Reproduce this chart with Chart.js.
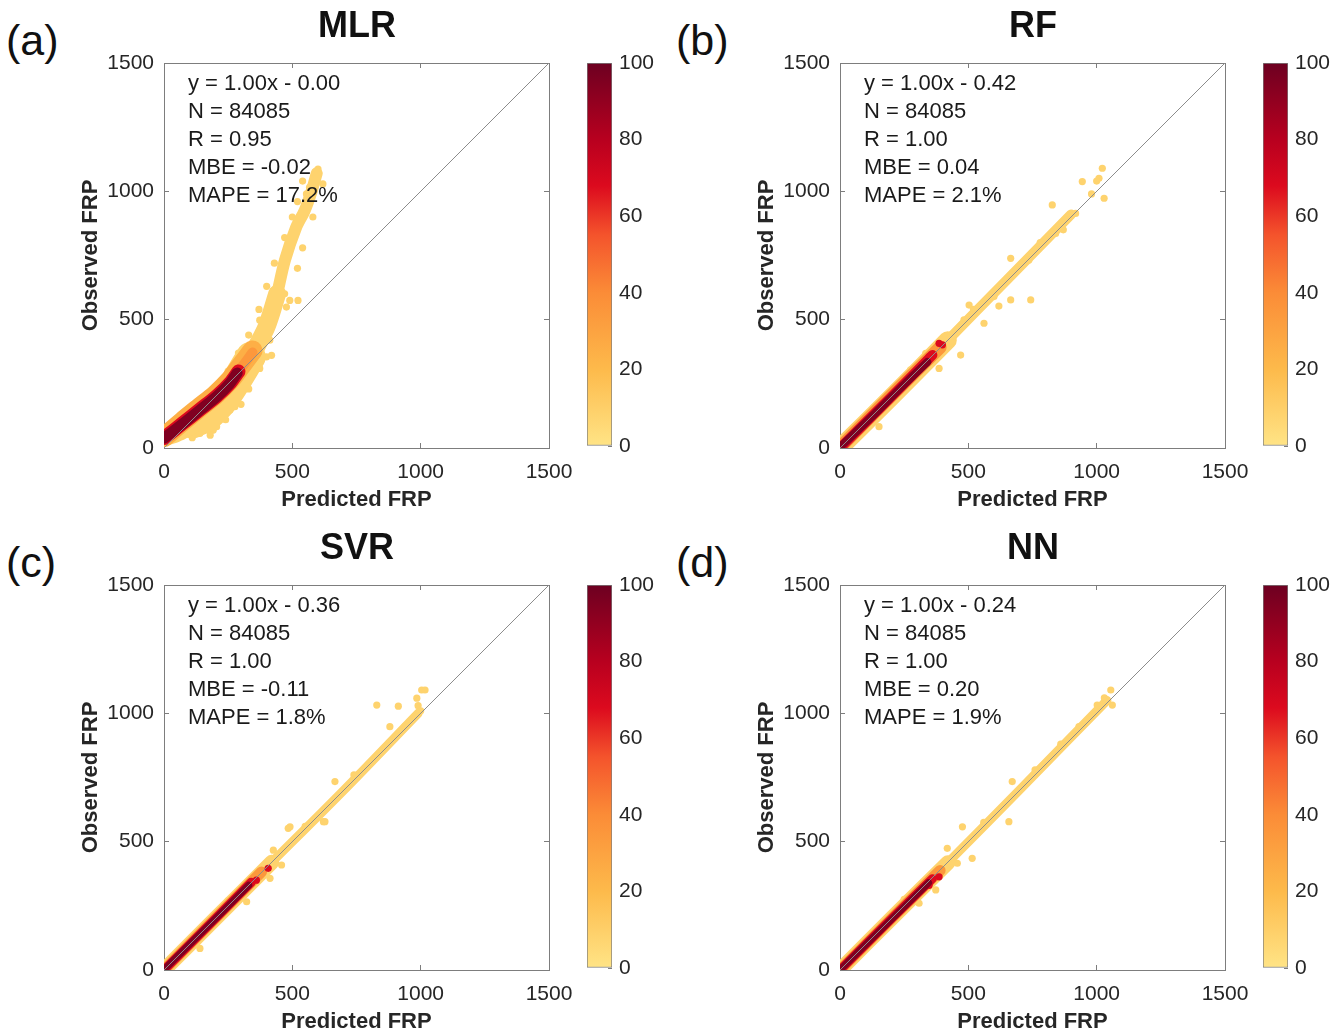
<!DOCTYPE html>
<html>
<head>
<meta charset="utf-8">
<title>FRP scatter density</title>
<script src="https://cdn.jsdelivr.net/npm/chart.js@4.4.1/dist/chart.umd.min.js"></script>
<style>
html, body { margin: 0; padding: 0; background: #fff; overflow: hidden; }
body { width: 1341px; height: 1034px; position: relative; font-family: 'Liberation Sans', Arial, Helvetica, sans-serif; color: #262626; }
canvas { position: absolute; }
.tag { position: absolute; font-size: 43px; line-height: 43px; color: #111; }
.ttl { position: absolute; width: 200px; text-align: center; font-size: 36px; line-height: 36px; font-weight: bold; color: #111; }
.stats { position: absolute; font-size: 22px; line-height: 28px; white-space: pre; color: #1a1a1a; }
</style>
</head>
<body>
<script>
// ---- labels and stats ----
const models = ['MLR', 'RF', 'SVR', 'NN'];
const panelTags = ['(a)', '(b)', '(c)', '(d)'];
const fitEq = ['y = 1.00x - 0.00', 'y = 1.00x - 0.42', 'y = 1.00x - 0.36', 'y = 1.00x - 0.24'];
const sampleN = [84085, 84085, 84085, 84085];
const corrR = ['0.95', '1.00', '1.00', '1.00'];
const mbe = ['-0.02', '0.04', '-0.11', '0.20'];
const mape = ['17.2%', '2.1%', '1.8%', '1.9%'];
const axisTicks = [0, 500, 1000, 1500];
const cbarTicks = [0, 20, 40, 60, 80, 100];

// point density (colorbar units) of each layer of a cloud
const densCore = 95, densRed = 68, densOrange = 35, densLight = 25, densYellow = 8;

// ---- MLR cloud (centre lines of each density layer, FRP units) ----
const mlrCore = [[0, 38], [75, 96], [140, 148], [205, 200], [255, 250], [285, 292]];
const mlrRed = [[0, 39], [75, 98], [140, 150], [205, 202], [258, 254], [290, 298]];
const mlrOrangeTip = [[265, 275], [305, 318], [345, 372]];
const mlrOrange = [[0, 42], [70, 102], [135, 155], [200, 207], [258, 265], [300, 320], [345, 380]];
const mlrYellowA = [[0, 36], [50, 52], [110, 82]];
const mlrYellowB = [[110, 95], [170, 125], [230, 185], [282, 262], [338, 355]];
const mlrYellowC = [[338, 355], [399, 471], [441, 601]];
const mlrYellowD = [[441, 601], [471, 731], [515, 860], [548, 925], [575, 1000], [595, 1070]];
const mlrDots = [[205, 83], [257, 148], [276, 161], [140, 57], [192, 70], [373, 310], [399, 355],
  [419, 361], [412, 420], [373, 498], [425, 510], [477, 549], [490, 575], [522, 575], [470, 601],
  [464, 731], [503, 835], [555, 990], [567, 1016], [600, 1087], [619, 1029],
  [30, 70], [90, 130], [150, 185], [215, 240], [250, 300], [290, 370], [330, 440], [370, 540],
  [400, 630], [430, 720], [470, 820], [500, 900], [520, 960], [540, 1040], [585, 1050], [580, 900],
  [540, 780], [520, 700], [330, 230], [300, 170], [240, 110], [180, 50], [110, 40]];
const mlrRedDots = [];

// ---- RF cloud ----
const rfCore = [[5, 8], [120, 118], [230, 228], [340, 335]];
const rfRed = [[0, 0], [200, 200], [360, 362]];
const rfOrange = [[0, 2], [200, 204], [390, 392]];
const rfYellowA = [[0, 0], [200, 198], [420, 420]];
const rfYellowB = [[420, 420], [650, 655], [900, 910]];
const rfDots = [[152, 83], [275, 304], [334, 369], [386, 310], [470, 362], [483, 499], [503, 557],
  [561, 486], [619, 553], [665, 577], [743, 577], [665, 739], [736, 732], [840, 836], [827, 947],
  [918, 914], [944, 1038], [1009, 1051], [1029, 973], [1022, 1090], [980, 990], [1000, 1040],
  [230, 250], [300, 280], [520, 540], [600, 590], [780, 800], [870, 850]];
const rfRedDots = [[386, 408], [347, 356], [399, 402]];

// ---- SVR cloud ----
const svrCore = [[5, 6], [150, 150], [330, 330]];
const svrRed = [[0, 0], [200, 200], [340, 342]];
const svrOrange = [[0, 0], [200, 201], [380, 382]];
const svrYellowA = [[0, 0], [200, 200], [420, 420]];
const svrYellowB = [[420, 420], [700, 700], [990, 1000]];
const svrDots = [[140, 84], [322, 266], [413, 357], [458, 409], [426, 467], [484, 552], [491, 558],
  [621, 578], [627, 578], [666, 734], [880, 948], [829, 1032], [913, 1028], [985, 1059], [1004, 1091],
  [1017, 1091], [990, 1030], [1000, 1010], [940, 950], [740, 760], [250, 270], [550, 560]];
const svrRedDots = [[406, 396], [360, 350], [300, 300]];

// ---- NN cloud ----
const nnCore = [[5, 5], [150, 148], [345, 340]];
const nnRed = [[0, 0], [200, 199], [360, 356]];
const nnOrange = [[0, 0], [200, 200], [390, 388]];
const nnYellowA = [[0, 0], [200, 200], [420, 418]];
const nnYellowB = [[420, 418], [700, 702], [1040, 1050]];
const nnDots = [[658, 578], [515, 435], [457, 416], [373, 312], [308, 260], [418, 474], [477, 558],
  [671, 734], [931, 948], [1002, 1032], [1061, 1032], [1055, 1091], [1030, 1060], [860, 880], [760, 780],
  [250, 275], [560, 575]];
const nnRedDots = [[386, 363], [347, 330]];

// ---- colormap ----
const cmapStops = [0, 20, 40, 55, 68, 80, 100];
const cmapColors = ['#ffe486', '#fdba4b', '#fb8c37', '#f4542c', '#dc0a1e', '#b8001f', '#6d0021'];

function hexRgb(h) { return [1, 3, 5].map(i => parseInt(h.slice(i, i + 2), 16)); }
function densityColor(v) {
  for (let i = 1; i < cmapStops.length; i++) {
    if (v <= cmapStops[i]) {
      const t = (v - cmapStops[i - 1]) / (cmapStops[i] - cmapStops[i - 1]);
      const a = hexRgb(cmapColors[i - 1]), b = hexRgb(cmapColors[i]);
      return 'rgb(' + a.map((c, k) => Math.round(c + (b[k] - c) * t)).join(',') + ')';
    }
  }
  return cmapColors[cmapColors.length - 1];
}

const FONT = "'Liberation Sans', Arial, Helvetica, sans-serif";
const AXIS_GREY = '#7d7d7d';
const TXT = '#262626';
const pts = a => a.map(([x, y]) => ({ x, y }));

// layers per panel: [points, density, line width px]
const panelLayers = [
  [[mlrCore, densCore, 11], [mlrRed, densRed, 14], [mlrOrangeTip, densOrange, 10], [mlrOrange, densLight, 20],
   [mlrYellowA, densYellow, 15], [mlrYellowB, densYellow, 30], [mlrYellowC, densYellow, 18], [mlrYellowD, densYellow, 12]],
  [[rfCore, densCore, 8], [rfRed, densRed, 10], [rfOrange, densOrange, 13], [rfYellowA, densYellow, 18], [rfYellowB, densYellow, 10]],
  [[svrCore, densCore, 7], [svrRed, densRed, 9], [svrOrange, densOrange, 11], [svrYellowA, densYellow, 15], [svrYellowB, densYellow, 9]],
  [[nnCore, densCore, 7], [nnRed, densRed, 9], [nnOrange, densOrange, 11], [nnYellowA, densYellow, 15], [nnYellowB, densYellow, 9]]
];
const panelDots = [mlrDots, rfDots, svrDots, nnDots];
const panelRedDots = [mlrRedDots, rfRedDots, svrRedDots, nnRedDots];

function addEl(cls, text, left, top) {
  const d = document.createElement('div');
  d.className = cls; d.textContent = text;
  d.style.left = left + 'px'; d.style.top = top + 'px';
  document.body.appendChild(d);
  return d;
}
function addCanvas(left, top, w, h) {
  const c = document.createElement('canvas');
  c.width = w; c.height = h;
  c.style.left = left + 'px'; c.style.top = top + 'px';
  c.style.width = w + 'px'; c.style.height = h + 'px';
  document.body.appendChild(c);
  return c;
}

function frameAxis(pos) {
  return {
    type: 'linear', position: pos, min: axisTicks[0], max: axisTicks[axisTicks.length - 1],
    afterBuildTicks: s => { s.ticks = axisTicks.map(v => ({ value: v })); },
    ticks: { display: false },
    grid: { drawOnChartArea: false, tickLength: -5, color: AXIS_GREY },
    border: { color: AXIS_GREY, width: 1 },
    afterFit: s => { if (pos === 'top') s.height = 0; else s.width = 0; }
  };
}

// plot frame: canvas 515x478, chart area 385x385 at (89, 28)
function scatterPanel(i, left, top) {
  const datasets = [];
  const lo = axisTicks[0], hi = axisTicks[axisTicks.length - 1];
  datasets.push({ data: pts([[lo, lo], [hi, hi]]), showLine: true, borderColor: '#8c8c8c', borderWidth: 1, pointRadius: 0 });
  const layers = panelLayers[i];
  const band = ([p, d, w]) => ({
    data: pts(p), showLine: true, borderColor: densityColor(d), borderWidth: w,
    borderCapStyle: 'round', borderJoinStyle: 'round', pointRadius: 0, tension: 0.3
  });
  const dots = (p, d) => ({ data: pts(p), showLine: false, backgroundColor: densityColor(d), borderWidth: 0, pointRadius: 3.6 });
  layers.slice(0, 2).forEach(l => datasets.push(band(l)));
  datasets.push(dots(panelRedDots[i], densRed));
  layers.slice(2).forEach(l => datasets.push(band(l)));
  datasets.push(dots(panelDots[i], densYellow));

  const tickFont = { family: FONT, size: 21 };
  const titleFont = { family: FONT, size: 22, weight: 'bold' };
  new Chart(addCanvas(left, top, 515, 478), {
    type: 'scatter',
    data: { datasets },
    options: {
      animation: false, responsive: false, events: [],
      layout: { autoPadding: false, padding: { top: 28, right: 41, left: 0, bottom: 0 } },
      plugins: { legend: { display: false }, tooltip: { enabled: false } },
      scales: {
        x: {
          type: 'linear', position: 'bottom', min: lo, max: hi,
          afterBuildTicks: s => { s.ticks = axisTicks.map(v => ({ value: v })); },
          ticks: { color: TXT, font: tickFont, padding: 17, maxRotation: 0, callback: v => String(v) },
          grid: { drawOnChartArea: false, tickLength: -5, color: AXIS_GREY },
          border: { color: AXIS_GREY, width: 1 },
          title: { display: true, text: 'Predicted FRP', color: TXT, font: titleFont, padding: { top: 0, bottom: 0 } },
          afterFit: s => { s.height = 65; }
        },
        y: {
          type: 'linear', position: 'left', min: lo, max: hi,
          afterBuildTicks: s => { s.ticks = axisTicks.map(v => ({ value: v })); },
          ticks: { color: TXT, font: tickFont, padding: 15, callback: v => String(v) },
          grid: { drawOnChartArea: false, tickLength: -5, color: AXIS_GREY },
          border: { color: AXIS_GREY, width: 1 },
          title: { display: true, text: 'Observed FRP', color: TXT, font: titleFont, padding: { top: 2.5, bottom: 0 } },
          afterFit: s => { s.width = 89; }
        },
        x2: frameAxis('top'),
        y2: frameAxis('right')
      }
    }
  });
}

// colour bar: bar filled with the colormap, chart area 25 px wide from y+28 to y+411
function colorbar(left, top, w) {
  const lo = cbarTicks[0], hi = cbarTicks[cbarTicks.length - 1];
  new Chart(addCanvas(left, top, w, 435), {
    type: 'bar',
    data: {
      labels: [''],
      datasets: [{
        data: [[lo, hi]],
        backgroundColor(ctx) {
          const a = ctx.chart.chartArea;
          if (!a) return null;
          const g = ctx.chart.ctx.createLinearGradient(0, a.bottom, 0, a.top);
          cmapStops.forEach((s, k) => g.addColorStop((s - lo) / (hi - lo), cmapColors[k]));
          return g;
        },
        borderColor: AXIS_GREY, borderWidth: 1, borderSkipped: false,
        barPercentage: 1, categoryPercentage: 1
      }]
    },
    options: {
      animation: false, responsive: false, events: [],
      layout: { autoPadding: false, padding: { top: 28, left: 7, bottom: 24, right: 0 } },
      plugins: { legend: { display: false }, tooltip: { enabled: false } },
      scales: {
        x: { display: false },
        y: {
          position: 'right', min: lo, max: hi,
          afterBuildTicks: s => { s.ticks = cbarTicks.map(v => ({ value: v })); },
          ticks: { color: TXT, font: { family: FONT, size: 21 }, padding: 11, callback: v => String(v) },
          grid: { drawOnChartArea: false, tickLength: -4, color: AXIS_GREY },
          border: { display: false },
          afterFit: s => { s.width = w - 7 - 25; }
        }
      }
    }
  });
}

const colShift = [0, 676];
const rowShift = [0, 522];
const tagLeft = [6, 676];

models.forEach((m, i) => {
  const dx = colShift[i % 2], dy = rowShift[Math.floor(i / 2)];
  scatterPanel(i, 75 + dx, 35 + dy);
  colorbar(580 + dx, 35 + dy, i % 2 ? 85 : 90);
  addEl('tag', panelTags[i], tagLeft[i % 2], 19 + dy);
  addEl('ttl', m, 257 + dx, 7 + dy);
  addEl('stats', [fitEq[i], 'N = ' + sampleN[i], 'R = ' + corrR[i], 'MBE = ' + mbe[i], 'MAPE = ' + mape[i]].join('\n'), 188 + dx, 69 + dy);
});
</script>
</body>
</html>
